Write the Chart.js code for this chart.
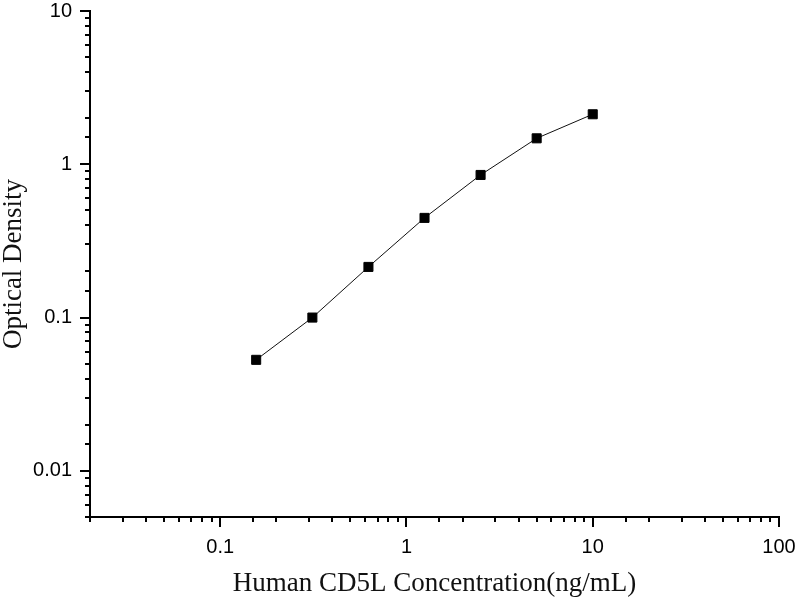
<!DOCTYPE html>
<html>
<head>
<meta charset="utf-8">
<script src="https://cdn.jsdelivr.net/npm/chart.js@4"></script>
<style>
  html, body { margin: 0; padding: 0; background: #fff; }
  #wrap { width: 800px; height: 600px; }
</style>
</head>
<body>
<div id="wrap"><canvas id="curveChart" width="800" height="600"></canvas></div>
<script>
// standard curve
const concentration = [0.156, 0.3125, 0.625, 1.25, 2.5, 5, 10];
const opticalDensity = [0.053, 0.1, 0.214, 0.447, 0.852, 1.477, 2.12];

const xRange = [0.02, 100];
const yRange = [0.005, 10];

const isDecade = v => Math.abs(Math.log10(v) - Math.round(Math.log10(v))) < 1e-6;
const decadeLabel = v => {
    const p = Math.round(Math.log10(v));
    return p < 0 ? Math.pow(10, p).toFixed(-p) : String(Math.pow(10, p));
};

// origin-style tick marks: long on decades, short in between, pointing outwards
const tickMarks = {
    id: 'tickMarks',
    afterDraw(chart) {
        const c = chart.ctx;
        c.save();
        c.strokeStyle = '#000';
        c.lineWidth = 2;
        const xs = chart.scales.x, ys = chart.scales.y;
        xs.ticks.forEach(t => {
            const px = Math.round(xs.getPixelForValue(t.value));
            const len = isDecade(t.value) ? 10 : 5;
            c.beginPath();
            c.moveTo(px, xs.top);
            c.lineTo(px, xs.top + len);
            c.stroke();
        });
        ys.ticks.forEach(t => {
            const py = Math.round(ys.getPixelForValue(t.value));
            const len = isDecade(t.value) ? 10 : 5;
            c.beginPath();
            c.moveTo(ys.right, py);
            c.lineTo(ys.right - len, py);
            c.stroke();
        });
        c.restore();
    }
};

const ctx = document.getElementById('curveChart').getContext('2d');
const curveChart = new Chart(ctx, {
    type: 'scatter',
    data: {
        datasets: [{
            data: concentration.map((x, i) => ({ x: x, y: opticalDensity[i] })),
            showLine: true,
            borderColor: '#111',
            borderWidth: 1,
            pointStyle: 'rect',
            pointRadius: 6.4,
            pointBorderWidth: 1,
            pointBackgroundColor: '#000',
            pointBorderColor: '#000'
        }]
    },
    options: {
        responsive: false,
        animation: false,
        layout: { padding: { top: 11, right: 21, bottom: 0, left: 0 } },
        scales: {
            x: {
                type: 'logarithmic',
                min: xRange[0],
                max: xRange[1],
                grid: { display: false, drawTicks: false },
                border: { display: true, color: '#000', width: 2 },
                ticks: {
                    autoSkip: false,
                    maxRotation: 0,
                    padding: 18,
                    color: '#000',
                    font: { family: '"Liberation Sans", Arial, sans-serif', size: 20 },
                    callback: v => isDecade(v) ? decadeLabel(v) : ''
                },
                title: {
                    display: true,
                    text: 'Human CD5L Concentration(ng/mL)',
                    color: '#111',
                    font: { family: '"Liberation Serif", "Times New Roman", serif', size: 27 },
                    padding: { top: 0, bottom: 0 }
                },
                afterFit: s => { s.height = 83; s.paddingLeft = 0; s.paddingRight = 0; }
            },
            y: {
                type: 'logarithmic',
                min: yRange[0],
                max: yRange[1],
                grid: { display: false, drawTicks: false },
                border: { display: true, color: '#000', width: 2 },
                ticks: {
                    autoSkip: false,
                    padding: 18,
                    color: '#000',
                    font: { family: '"Liberation Sans", Arial, sans-serif', size: 20 },
                    callback: v => isDecade(v) ? decadeLabel(v) : ''
                },
                title: {
                    display: true,
                    text: 'Optical Density',
                    color: '#111',
                    font: { family: '"Liberation Serif", "Times New Roman", serif', size: 27, lineHeight: 1 },
                    padding: { top: 0, bottom: 0 }
                },
                afterFit: s => { s.width = 90; s.paddingTop = 0; s.paddingBottom = 0; }
            }
        },
        plugins: {
            legend: { display: false },
            tooltip: { enabled: false }
        }
    },
    plugins: [tickMarks]
});
</script>
</body>
</html>
